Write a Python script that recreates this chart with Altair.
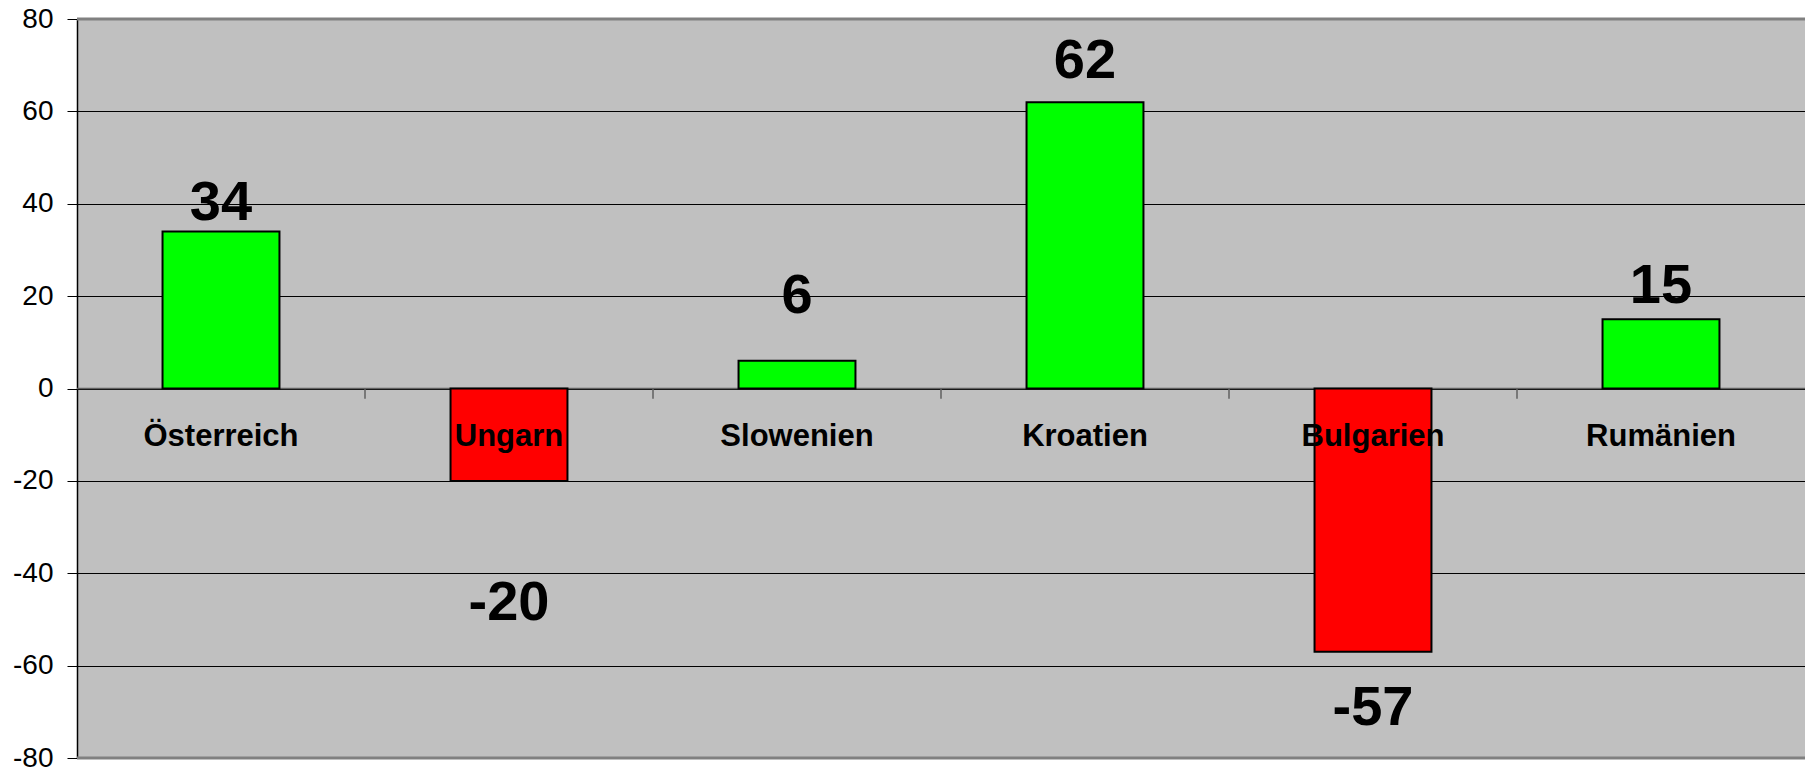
import altair as alt
import pandas as pd

countries = ["Österreich", "Ungarn", "Slowenien", "Kroatien", "Bulgarien", "Rumänien"]
values = [34, -20, 6, 62, -57, 15]
# anchor of each value label (in axis units)
label_anchor = [36.5, -50.1, 16.4, 67.2, -72.9, 18.5]
y_ticks = [-80, -60, -40, -20, 0, 20, 40, 60, 80]
# category boundaries (in category steps) where the x-axis ticks sit
boundaries = [1, 2, 3, 4, 5]

df = pd.DataFrame({
    "country": countries,
    "value": values,
    "label_y": label_anchor,
    "text": [str(v) for v in values],
    "sign": ["pos" if v >= 0 else "neg" for v in values],
})

FONT = "Liberation Sans"

xscale = alt.Scale(domain=countries, paddingInner=0.594, paddingOuter=0.297)
yscale = alt.Scale(domain=[-80, 80], nice=False, zero=False)

base = alt.Chart(df)

bars = base.mark_bar(stroke="black", strokeWidth=2).encode(
    x=alt.X("country:N", scale=xscale, sort=countries,
            axis=alt.Axis(title=None, orient="bottom", offset=-369.5, domain=False,
                          ticks=False,
                          labelFont=FONT, labelFontSize=31, labelFontWeight="bold",
                          labelColor="black", labelAngle=0, labelPadding=33, zindex=1)),
    y=alt.Y("value:Q", scale=yscale,
            axis=alt.Axis(title=None, values=y_ticks, grid=True, gridColor="black",
                          gridWidth=1, gridOpacity=1, domainColor="black", domainWidth=1.5,
                          tickColor="black", tickSize=10, tickWidth=1,
                          labelExpr="'' + datum.value",
                          labelFont=FONT, labelFontSize=28, labelColor="black",
                          labelPadding=14, zindex=0)),
    y2=alt.datum(0),
    color=alt.Color("sign:N", scale=alt.Scale(domain=["pos", "neg"], range=["#00FF00", "#FF0000"]),
                    legend=None),
)

zero = alt.Chart(pd.DataFrame({"y": [0]})).mark_rule(color="#606060", strokeWidth=1.5).encode(
    y=alt.Y("y:Q", scale=yscale)
)

ticks = alt.Chart(pd.DataFrame({"b": boundaries})).mark_rule(color="#606060", strokeWidth=1.5).encode(
    x=alt.X("b:Q", scale=alt.Scale(domain=[0, 6], nice=False, zero=False), axis=None),
    y=alt.Y("y0:Q", scale=yscale),
    y2="y1:Q",
).transform_calculate(y0="0", y1="-2.2")

borders = alt.Chart(pd.DataFrame({"y": [80, -80]})).mark_rule(color="#808080", strokeWidth=3).encode(
    y=alt.Y("y:Q", scale=yscale)
)

labels = base.mark_text(font=FONT, fontSize=56, fontWeight="bold", color="black",
                        baseline="alphabetic", align="center").encode(
    x=alt.X("country:N", scale=xscale, sort=countries),
    y=alt.Y("label_y:Q", scale=yscale),
    text="text:N",
)

chart = alt.layer(zero, alt.layer(bars, labels), ticks, borders).resolve_scale(x="independent").properties(
    width=1728, height=739,
    autosize=alt.AutoSizeParams(type="none"),
    padding={"left": 77, "top": 19, "right": 0, "bottom": 12},
    background="white",
).configure_view(fill="#C0C0C0", stroke=None)

chart.save("out.html", embed_options={"renderer": "svg", "actions": False})
